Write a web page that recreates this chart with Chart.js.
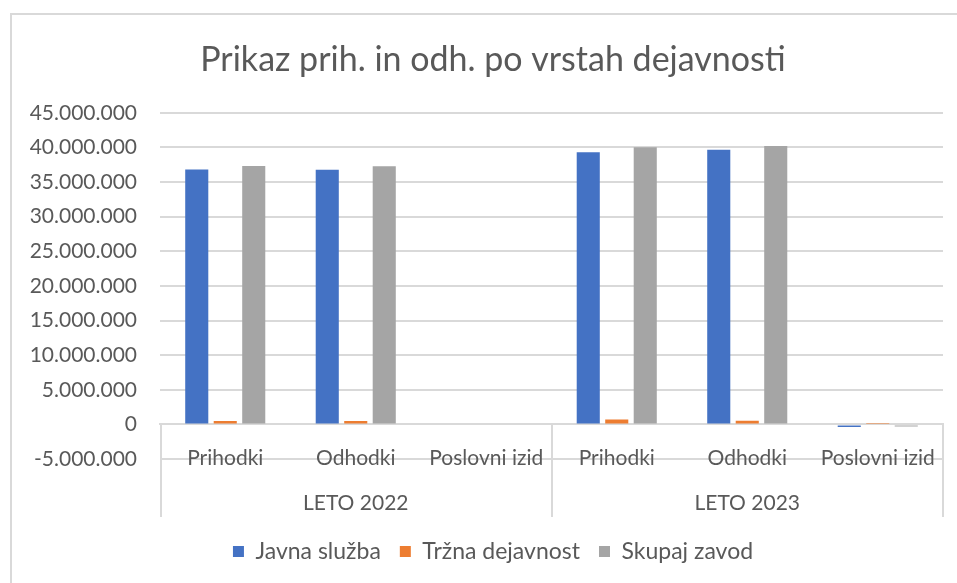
<!DOCTYPE html>
<html>
<head>
<meta charset="utf-8">
<script src="https://cdn.jsdelivr.net/npm/chart.js@4/dist/chart.umd.min.js"></script>
<style>
    html, body { margin: 0; padding: 0; background: #fff; overflow: hidden; }
    #wrap { position: relative; width: 957px; height: 583px; }
    #frame { position: absolute; left: 10px; top: 13px; right: -4px; bottom: -4px;
             border-left: 2px solid #d9d9d9; border-top: 2px solid #d9d9d9; }
    #chart { position: absolute; left: 0; top: 0; }
</style>
</head>
<body>
<div id="wrap">
    <div id="frame"></div>
    <canvas id="chart" width="957" height="583"></canvas>
</div>
<script>
// --- Data ---
const categories = ['Prihodki', 'Odhodki', 'Poslovni izid', 'Prihodki', 'Odhodki', 'Poslovni izid'];
const groups = ['LETO 2022', 'LETO 2023'];
const javnaSluzba = [36800000, 36780000, 0, 39300000, 39680000, -380000];
const trznaDejavnost = [500000, 490000, 0, 720000, 520000, 60000];
const skupajZavod = [37300000, 37270000, 0, 40020000, 40200000, -300000];
const yTicks = { min: -5000000, max: 45000000, step: 5000000 };

const TEXT = '#595959';
const GRID = '#d9d9d9';
const FONT = 'Lato, "Open Sans", sans-serif';

function fmt(v) {
    const s = Math.abs(v).toString().replace(/\B(?=(\d{3})+(?!\d))/g, '.');
    return (v < 0 ? '-' : '') + s;
}

// Draws the group dividers below the zero line (two-level category axis)
const groupDividers = {
    id: 'groupDividers',
    afterDraw(chart) {
        const { ctx, chartArea, scales } = chart;
        const x = scales.x, y = scales.y, x2 = scales.x2;
        const top = y.getPixelForValue(0);
        const bottom = x2.top + 58;
        const mid = (x.getPixelForValue(2) + x.getPixelForValue(3)) / 2;
        ctx.save();
        ctx.strokeStyle = GRID;
        ctx.lineWidth = 2;
        [chartArea.left + 1, mid, chartArea.right].forEach(px => {
            ctx.beginPath();
            ctx.moveTo(Math.round(px), top);
            ctx.lineTo(Math.round(px), bottom);
            ctx.stroke();
        });
        ctx.restore();
    }
};

new Chart(document.getElementById('chart'), {
    type: 'bar',
    data: {
        labels: categories,
        datasets: [
            { label: 'Javna služba', data: javnaSluzba, backgroundColor: '#4472C4' },
            { label: 'Tržna dejavnost', data: trznaDejavnost, backgroundColor: '#ED7D31' },
            { label: 'Skupaj zavod', data: skupajZavod, backgroundColor: '#A5A5A5' }
        ]
    },
    options: {
        responsive: false,
        animation: false,
        layout: { padding: { left: 43, right: 14, top: 14, bottom: 10 } },
        datasets: { bar: { barPercentage: 0.81, categoryPercentage: 0.655 } },
        scales: {
            x: {
                position: { y: 0 },
                grid: { display: false },
                border: { display: true, color: GRID, width: 2 },
                ticks: {
                    color: TEXT, font: { family: FONT, size: 21 },
                    padding: 13, autoSkip: false, maxRotation: 0
                }
            },
            x2: {
                type: 'category',
                labels: groups,
                position: 'bottom',
                offset: true,
                grid: { display: false },
                border: { display: false },
                ticks: { color: TEXT, font: { family: FONT, size: 21 }, padding: 24, maxRotation: 0 },
                afterFit(scale) { scale.height = 62; }
            },
            y: {
                min: yTicks.min,
                max: yTicks.max,
                grid: { color: GRID, lineWidth: 2, drawTicks: false },
                border: { display: false },
                ticks: {
                    stepSize: yTicks.step,
                    color: TEXT, font: { family: FONT, size: 21 }, padding: 23,
                    callback: v => fmt(v)
                },
                afterFit(scale) {
                    scale.width = 117;
                    // long labels reach past the left padding, don't clip them
                    scale._computeLabelArea = () => undefined;
                }
            }
        },
        plugins: {
            title: {
                display: true,
                text: 'Prikaz prih. in odh. po vrstah dejavnosti',
                color: TEXT,
                font: { family: FONT, size: 34, weight: 'normal' },
                padding: { top: 26, bottom: 32 }
            },
            legend: {
                position: 'bottom',
                labels: {
                    color: TEXT, font: { family: FONT, size: 23 },
                    boxWidth: 11, boxHeight: 11, padding: 19
                }
            },
            tooltip: { enabled: false }
        }
    },
    plugins: [groupDividers]
});
</script>
</body>
</html>
